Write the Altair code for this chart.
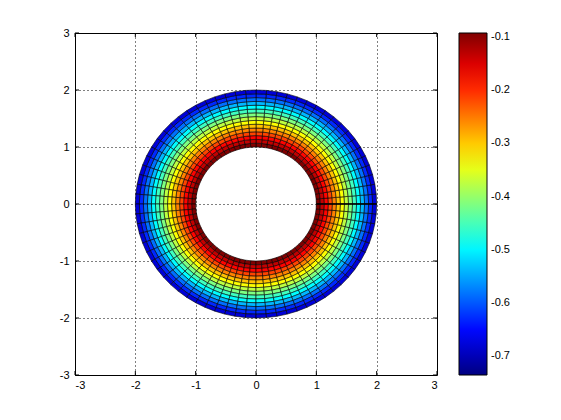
import altair as alt
import numpy as np
import pandas as pd

# Radial grid nodes (inner radius 1 to outer radius 2)
radii = [1.0, 1.0667, 1.1333, 1.2, 1.2667, 1.3333, 1.4, 1.4667, 1.5333,
         1.6, 1.6667, 1.7333, 1.8, 1.8667, 1.9333, 2.0]
# Field value at each radial node (same for every angle)
ring_values = [-0.0925, -0.135, -0.175, -0.215, -0.255, -0.295, -0.335, -0.375,
               -0.415, -0.455, -0.495, -0.54, -0.585, -0.63, -0.68, -0.7357]
n_theta = 72  # angular divisions of the mesh

axis_ticks = [-3, -2, -1, 0, 1, 2, 3]
cbar_ticks = [-0.7, -0.6, -0.5, -0.4, -0.3, -0.2, -0.1]

jet_colors = ["#000080", "#0000ff", "#00ffff", "#ffff00", "#ff0000", "#800000"]
jet_stops = [0.0, 0.125, 0.375, 0.625, 0.875, 1.0]

# Build cell polygons (pcolor-style flat shading: value of the inner node)
thetas = np.linspace(0, 2 * np.pi, n_theta + 1)
rows = []
for i in range(len(radii) - 1):
    r0, r1 = radii[i], radii[i + 1]
    for j in range(n_theta):
        t0, t1 = thetas[j], thetas[j + 1]
        corners = [(r0, t0), (r1, t0), (r1, t1), (r0, t1), (r0, t0)]
        for k, (r, t) in enumerate(corners):
            rows.append({"cell": i * n_theta + j, "k": k,
                         "x": r * np.cos(t), "y": r * np.sin(t),
                         "v": ring_values[i]})
cells_df = pd.DataFrame(rows)

seam_df = pd.DataFrame({"x": [radii[0], radii[-1]], "y": [0.0, 0.0], "k": [0, 1]})
ticks_df = pd.DataFrame({"t": axis_ticks})

vmin, vmax = min(ring_values), max(ring_values)
color_scale = alt.Scale(domain=[vmin + s * (vmax - vmin) for s in jet_stops],
                        range=jet_colors, interpolate="rgb")

W, H = 362, 342
xs = alt.Scale(domain=[-3, 3], nice=False, zero=False)
ys = alt.Scale(domain=[-3, 3], nice=False, zero=False)

minus_fix = "replace(datum.label, '\u2212', '-')"

x_axis = alt.Axis(values=axis_ticks, title=None, grid=True, gridDash=[1, 3],
                  gridColor="black", gridOpacity=1, ticks=False, domain=False,
                  labelPadding=4, labelFontSize=11, labelColor="black",
                  labelFont="Liberation Sans", format="d", labelExpr=minus_fix)
y_axis = alt.Axis(values=axis_ticks, title=None, grid=True, gridDash=[1, 3],
                  gridColor="black", gridOpacity=1, ticks=False, domain=False,
                  labelPadding=6, labelFontSize=11, labelColor="black",
                  labelFont="Liberation Sans", format="d", labelExpr=minus_fix)

cells = alt.Chart(cells_df).mark_line(
    stroke="black", strokeWidth=0.6, interpolate="linear"
).encode(
    x=alt.X("x:Q", scale=xs, axis=x_axis),
    y=alt.Y("y:Q", scale=ys, axis=y_axis),
    fill=alt.Fill("v:Q", scale=color_scale, legend=alt.Legend(
        title=None, orient="right", offset=22, direction="vertical",
        gradientLength=H, gradientThickness=28,
        gradientStrokeColor="black", gradientStrokeWidth=1,
        values=cbar_ticks, labelOverlap=False, labelFontSize=11,
        labelColor="black", labelFont="Liberation Sans", labelOffset=4,
        format=".1f", labelExpr=minus_fix)),
    detail="cell:N",
    order="k:Q",
)

seam = alt.Chart(seam_df).mark_line(color="black", strokeWidth=1.6).encode(
    x=alt.X("x:Q", scale=xs), y=alt.Y("y:Q", scale=ys), order="k:Q")

tick_len = 4
tb = alt.Chart(ticks_df).mark_rule(color="black").encode(
    x=alt.X("t:Q", scale=xs), y=alt.value(H), y2=alt.value(H - tick_len))
tt = alt.Chart(ticks_df).mark_rule(color="black").encode(
    x=alt.X("t:Q", scale=xs), y=alt.value(0), y2=alt.value(tick_len))
tl = alt.Chart(ticks_df).mark_rule(color="black").encode(
    y=alt.Y("t:Q", scale=ys), x=alt.value(0), x2=alt.value(tick_len))
tr = alt.Chart(ticks_df).mark_rule(color="black").encode(
    y=alt.Y("t:Q", scale=ys), x=alt.value(W), x2=alt.value(W - tick_len))

chart = alt.layer(cells, seam, tb, tt, tl, tr).properties(
    width=W, height=H,
    autosize=alt.AutoSizeParams(type="none"),
    padding={"left": 67, "top": 25, "right": 100, "bottom": 30},
    background="white",
).configure_view(stroke="black", strokeWidth=1)

chart.save("out.html", embed_options={"renderer": "svg", "actions": False})
